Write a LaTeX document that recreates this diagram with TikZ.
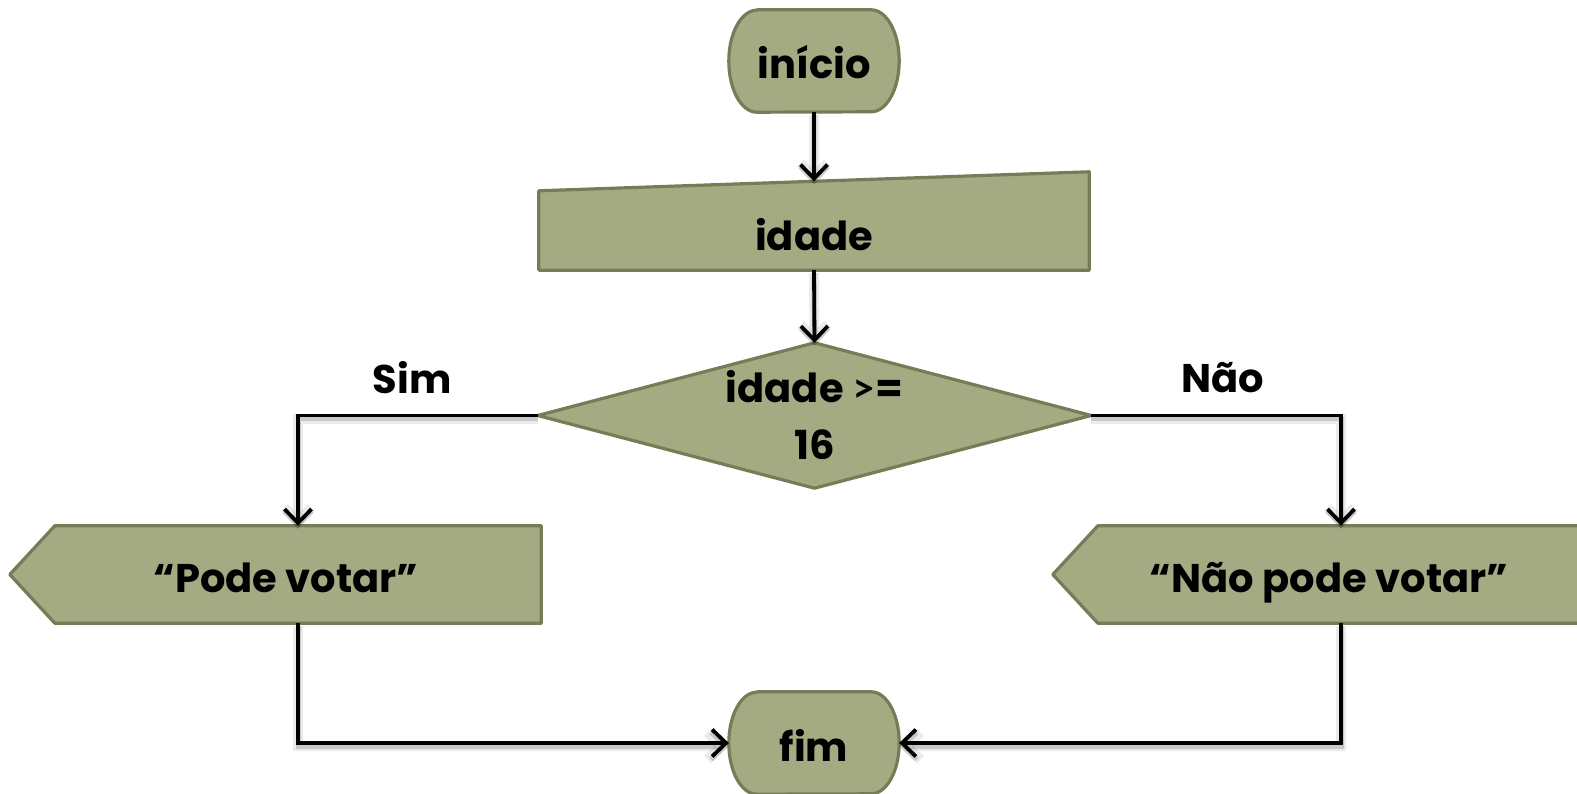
\documentclass[tikz,border=0pt]{standalone}
\usepackage{fontspec}
\setmainfont{Poppins}
\newfontfamily\relfont{Lato}
\usetikzlibrary{arrows.meta,backgrounds,calc}
\definecolor{shapefill}{RGB}{164,171,131}
\definecolor{shapeedge}{RGB}{118,125,86}

\newcommand{\terminalpath}[1]{%
  \draw[shp] ([xshift=28pt]#1.north west) -- ([xshift=-28pt]#1.north east)
    arc[start angle=90,end angle=-90,x radius=28pt,y radius=51pt]
    -- ([xshift=28pt]#1.south west)
    arc[start angle=270,end angle=90,x radius=28pt,y radius=51pt] -- cycle;}
\newcommand{\displaypath}[1]{%
  \draw[shp] (#1.north west) -- (#1.north east) -- (#1.south east)
    -- (#1.south west) -- ([xshift=-45pt]#1.west) -- cycle;}

\begin{document}
\begin{tikzpicture}[x=1pt,y=-1pt,
  txt/.style={font=\bfseries\fontsize{40}{57}\selectfont, text=black, inner sep=0pt, align=center},
  box/.style={txt, rectangle, text height=36pt, text depth=0pt},
  shp/.style={fill=shapefill, draw=shapeedge, line width=3.2pt, line join=round},
  flow/.style={line width=3.8pt, -{Straight Barb[length=14pt,width=27pt]},
    preaction={draw=black, opacity=0.08, line width=10pt, transform canvas={yshift=-3pt}},
    preaction={draw=black, opacity=0.15, line width=5pt, transform canvas={yshift=-3pt}}}
]
\useasboundingbox (0,0) rectangle (1577,794);

% flowchart nodes
\node[box, minimum width=170pt, minimum height=102pt] (start) at (814,61) {início};
\node[box, minimum width=550pt, minimum height=79pt, text height=40pt] (in) at (814,230.5) {idade};
\coordinate (intop) at ($(in.north west)!0.5!([yshift=19pt]in.north east)$);
\node[txt, minimum width=553pt, minimum height=145pt]
  (dec) at (814.5,415.5) {idade {\relfont >}=\\16};
\node[box, minimum width=486pt, minimum height=97pt] (pv) at (298,574.5) {\hspace*{-24pt}“Pode votar”};
\node[box, minimum width=486pt, minimum height=97pt] (npv) at (1341,574.5) {\hspace*{-24pt}“Não pode votar”};
\node[box, minimum width=170pt, minimum height=102pt] (stop) at (814,743) {fim};

\node[txt] (sim) at (412,378) {Sim};
\node[txt] (nao) at (1223,378) {Não};

% shape outlines behind the texts
\begin{scope}[on background layer]
  \terminalpath{start}
  \terminalpath{stop}
  \draw[shp] (in.south west) -- (in.south east) -- ([yshift=19pt]in.north east)
    -- (in.north west) -- cycle;
  \draw[shp] (dec.north) -- (dec.east) -- (dec.south) -- (dec.west) -- cycle;
  \displaypath{pv}
  \displaypath{npv}
\end{scope}

% connectors
\draw[flow] (start.south) -- (intop);
\draw[flow] (in.south) -- (dec.north);
\draw[flow] (dec.west) -| (pv.north);
\draw[flow] (dec.east) -| (npv.north);
\draw[flow] (pv.south) |- (stop.west);
\draw[flow] (npv.south) |- (stop.east);
\end{tikzpicture}
\end{document}
